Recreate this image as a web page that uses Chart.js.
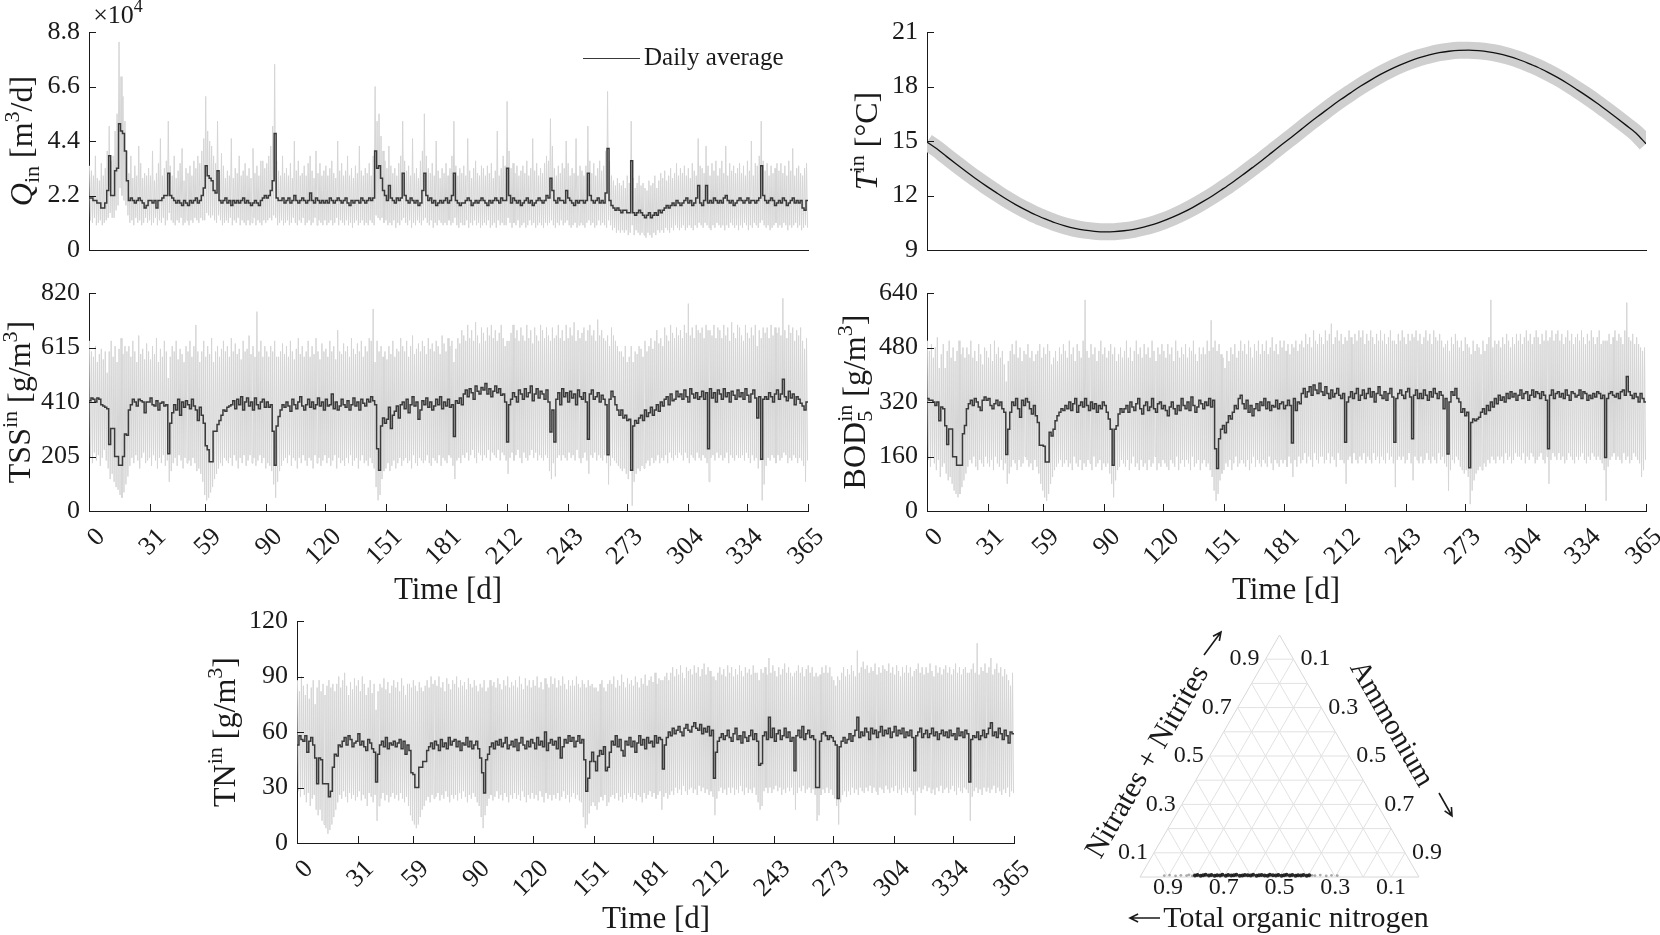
<!DOCTYPE html>
<html>
<head>
<meta charset="utf-8">
<script src="https://cdn.jsdelivr.net/npm/chart.js@4.4.1/dist/chart.umd.min.js"></script>
<style>
html, body { margin: 0; padding: 0; background: #fff; }
#wrap { position: relative; width: 1660px; height: 935px; overflow: hidden; background: #fff; }
canvas { position: absolute; }
</style>
</head>
<body>
<div id="wrap">
	<canvas id="cQ" width="830" height="270" style="left:0;top:0"></canvas>
	<canvas id="cT" width="830" height="270" style="left:830px;top:0"></canvas>
	<canvas id="cS" width="830" height="340" style="left:0;top:270px"></canvas>
	<canvas id="cB" width="830" height="340" style="left:830px;top:270px"></canvas>
	<canvas id="cN" width="850" height="335" style="left:190px;top:600px"></canvas>
	<canvas id="cR" width="620" height="345" style="left:1040px;top:590px"></canvas>
</div>
<script>
// ---- data (daily values, day 0..364) ----
const X_TICKS = [0, 31, 59, 90, 120, 151, 181, 212, 243, 273, 304, 334, 365];

// influent flow, 10^3 m3/d
const qAvg = [
	21,21,20,20,19,19,17,17,19,24, 38,22,22,32,33,51,48,47,40,28, 20,21,20,19,20,21,20,19,17,18,
	20,20,19,20,17,20,20,21,22,22, 31,22,21,20,19,20,19,18,20,19, 18,20,19,20,21,19,20,22,25,34,
	30,29,28,24,23,32,20,19,20,21, 19,20,18,20,19,20,19,20,21,19, 20,19,18,19,20,19,18,20,21,22,
	21,22,24,28,47,21,20,20,21,19, 20,21,19,20,22,20,19,20,21,20, 19,20,23,20,19,21,20,19,20,19,
	20,19,21,20,19,20,21,20,19,20, 21,19,18,20,19,20,20,19,21,20, 19,20,21,20,21,40,33,34,29,24,
	22,20,26,21,20,19,21,20,21,31, 22,20,19,21,20,19,20,18,19,24, 31,22,20,21,19,20,18,19,20,19,
	20,21,19,20,22,31,20,19,18,19, 19,20,21,20,18,19,20,19,20,21, 20,19,18,20,19,20,21,20,19,21,
	20,20,33,22,19,21,20,19,20,18, 19,20,21,19,20,18,19,20,21,20, 19,20,22,21,29,24,20,19,21,20,
	20,19,24,21,20,19,18,20,19,20, 20,19,20,31,22,20,19,20,21,19, 20,19,23,41,20,18,17,16,17,16,
	15,16,16,15,15,36,15,14,15,16, 15,14,13,14,15,13,14,15,14,16, 15,16,17,18,17,18,19,18,20,19,
	18,19,20,21,19,20,18,19,21,26, 19,18,20,26,19,20,19,21,20,19, 20,19,21,22,20,19,20,18,19,20,
	21,20,19,20,21,19,20,20,19,20, 21,34,22,20,19,20,21,20,18,19, 20,19,21,20,18,19,20,21,19,20,
	19,20,17,16,20
];
const qHi = [
	34,32,30,38,29,28,35,30,33,40, 50,36,38,48,55,84,70,62,52,40, 31,38,29,34,30,42,35,29,31,30,
	33,30,40,28,31,35,45,30,33,36, 52,34,30,38,29,32,35,41,28,33, 31,34,30,36,33,38,35,40,45,62,
	48,44,42,38,35,52,32,39,34,29, 32,30,45,29,33,31,38,30,32,35, 30,33,29,41,31,34,30,36,36,33,
	35,38,42,50,75,36,32,30,38,31, 33,30,35,29,44,32,36,30,31,34, 30,35,38,32,29,40,31,35,30,32,
	34,30,33,36,31,29,44,32,35,30, 32,38,30,33,29,34,31,42,32,30, 33,31,35,30,38,66,52,55,46,40,
	36,33,42,34,31,33,30,35,38,52, 36,32,34,30,45,31,33,29,36,40, 55,38,33,31,35,30,44,32,29,33,
	31,35,30,33,38,52,34,30,33,31, 34,30,45,32,29,33,36,31,30,34, 33,30,34,31,35,29,32,48,30,33,
	38,34,60,40,33,35,31,34,30,32, 34,31,36,30,33,45,32,35,30,33, 31,35,38,36,53,42,33,30,34,31,
	35,33,44,35,30,33,31,45,30,34, 32,30,34,50,36,31,35,30,33,36, 32,34,40,64,36,30,28,26,29,27,
	26,28,25,30,27,52,29,25,27,30, 26,27,25,24,28,26,27,30,25,28, 31,29,32,28,30,33,29,31,35,30,
	33,31,34,30,33,29,35,32,30,45, 34,33,31,42,34,30,35,32,36,30, 33,36,31,42,30,35,32,34,31,33,
	35,31,34,30,36,32,44,30,35,34, 38,52,36,32,35,30,34,31,33,35, 32,35,31,34,30,36,32,41,30,33,
	34,31,30,33,35
];
const qLo = [
	12,11,13,10,11,12,10,11,12,13, 15,13,13,16,18,25,22,20,18,14, 11,12,10,13,11,12,10,11,13,11,
	12,10,11,13,10,12,11,13,10,12, 15,12,11,10,12,11,13,10,11,12, 10,12,11,13,12,11,13,12,12,15,
	14,13,14,12,11,14,12,10,11,12, 11,13,10,12,11,13,10,12,11,10, 12,10,11,13,10,12,11,10,12,11,
	12,13,12,14,13,10,11,12,10,11, 12,10,11,13,11,10,12,11,13,10, 11,12,10,11,13,10,12,11,10,12,
	10,11,12,10,11,13,10,12,11,10, 12,10,11,9,11,12,10,11,12,10, 11,10,12,11,10,14,13,12,13,11,
	12,10,11,10,12,9,11,10,12,13, 11,10,12,9,11,10,12,11,10,12, 13,11,10,12,9,11,10,12,11,10,
	11,10,12,10,11,13,10,9,11,10, 10,12,9,11,10,12,10,11,9,10, 11,10,12,9,10,11,9,12,10,11,
	10,10,13,11,9,11,10,12,9,10, 11,9,10,12,10,11,9,10,11,10, 9,11,10,11,12,10,9,11,10,12,
	10,11,12,10,9,10,11,9,10,11, 10,9,11,12,10,11,9,10,12,10, 11,10,9,12,10,8,9,7,8,7,
	8,7,8,6,7,10,6,8,7,6, 7,6,5,7,6,5,7,6,8,7, 8,7,9,8,7,9,8,10,9,8,
	9,10,8,9,10,9,8,10,9,11, 10,9,11,10,9,8,10,9,11,10, 9,10,8,10,9,11,10,9,10,8,
	10,9,11,10,8,10,9,11,10,9, 11,12,10,9,10,8,9,10,11,9, 10,9,11,10,8,10,9,10,11,9,
	10,8,9,10,9
];

// temperature, read every 5 days (day 0, 5, ..., 365)
const tVals = [
	14.95,14.57,14.14,13.72,13.31,12.91,12.53,12.17,11.82,11.50,11.21,10.94,10.71,10.50,10.33,10.19,10.09,10.03,10.00,10.01,
	10.06,10.14,10.26,10.41,10.60,10.82,11.07,11.35,11.66,11.99,12.35,12.72,13.11,13.52,13.93,14.36,14.79,15.21,15.64,16.07,
	16.48,16.89,17.28,17.65,18.01,18.34,18.65,18.93,19.18,19.40,19.59,19.74,19.86,19.94,19.99,20.00,19.97,19.91,19.81,19.67,
	19.50,19.29,19.06,18.79,18.50,18.18,17.83,17.47,17.09,16.69,16.28,15.86,15.43,14.85
];

// total suspended solids, g/m3
const tssAvg = [
	415,425,420,410,425,420,400,395,390,385, 250,310,310,205,205,172,172,205,290,285, 380,400,420,410,395,420,415,410,370,410,
	410,425,400,395,415,380,405,410,395,400, 215,330,370,400,380,420,360,410,390,415, 400,385,420,395,380,340,390,360,330,245,
	230,185,185,300,300,325,340,360,380,375, 390,395,400,415,385,420,400,430,380,410, 425,395,410,380,425,400,385,410,420,390,
	410,390,400,300,172,320,355,380,400,390, 410,395,375,420,400,385,410,430,395,380, 400,420,390,410,385,400,425,395,410,380,
	420,395,400,440,385,410,380,395,420,400, 390,415,380,400,425,395,410,380,420,405, 395,420,410,430,415,400,234,153,320,350,
	330,345,390,310,360,375,395,350,400,410, 385,420,370,400,430,395,410,345,380,415, 400,425,390,410,380,395,420,400,430,385,
	410,395,420,390,400,280,415,405,425,400, 440,455,430,460,445,420,470,450,440,465, 455,480,440,460,430,450,470,445,460,435,
	440,410,260,400,420,445,430,410,455,440, 420,460,430,445,470,415,440,460,425,450, 440,420,455,410,297,380,260,420,445,400,
	460,430,445,410,450,425,440,400,455,430, 420,445,410,270,440,455,420,430,445,410, 435,420,400,212,420,450,430,400,380,360,
	380,350,360,340,345,153,320,340,330,350, 360,340,380,355,370,390,360,380,400,375, 410,395,420,430,400,440,415,420,450,430,
	440,420,455,430,410,460,440,425,445,420, 430,450,420,445,234,460,425,445,410,455, 440,420,460,430,445,410,450,435,420,455,
	430,445,420,460,435,410,440,455,425,350, 430,195,420,430,420,445,430,410,440,455, 420,440,496,430,415,450,425,440,400,430,
	420,405,395,380,410
];
const tssHi = [
	640,600,580,620,560,590,610,570,600,520, 600,640,580,620,560,610,650,590,620,600, 620,580,640,600,560,660,590,610,570,630,
	600,570,620,590,650,560,610,580,640,600, 500,580,620,600,640,570,610,590,560,620, 600,640,580,620,700,600,560,600,640,580,
	620,590,650,560,600,620,580,610,640,600, 620,580,650,600,630,590,610,570,640,600, 610,660,590,620,580,750,600,640,580,620,
	600,580,620,600,640,580,580,600,630,590, 620,580,640,600,570,610,650,590,620,580, 600,640,580,620,590,650,600,570,630,600,
	610,580,640,600,620,570,680,600,590,630, 600,620,580,650,610,590,630,600,640,580, 620,600,650,640,760,560,640,600,620,580,
	600,570,620,590,640,580,610,600,650,620, 600,640,580,620,660,590,610,630,600,640, 620,590,650,610,630,600,640,620,590,660,
	630,600,650,620,640,560,610,650,630,680, 660,640,700,650,680,640,710,660,630,690, 670,640,690,660,700,650,680,640,670,700,
	650,620,640,640,670,700,650,680,640,690, 660,640,700,650,680,630,690,660,640,700, 680,650,690,660,640,690,650,660,700,650,
	680,640,700,650,690,660,710,640,680,650, 670,690,640,680,700,660,680,640,720,660, 680,650,640,660,620,690,660,640,620,600,
	600,580,620,560,580,620,560,600,590,620, 610,580,640,600,620,650,610,640,680,630, 650,620,690,660,640,700,670,650,690,660,
	680,650,700,670,780,660,690,650,700,680, 670,690,650,700,680,680,660,700,650,690, 680,650,700,660,690,640,710,670,650,700,
	690,660,640,700,670,650,690,660,700,620, 680,650,690,670,690,650,700,660,690,670, 690,660,800,680,650,700,670,690,640,680,
	660,690,640,610,650
];
const tssLo = [
	200,180,220,190,210,170,200,230,190,160, 120,140,110,90,80,60,50,70,100,130, 170,200,180,210,190,160,200,220,180,190,
	200,170,210,190,160,200,180,210,170,190, 110,150,180,200,170,210,190,160,200,180, 190,170,200,180,150,160,140,110,60,40,
	50,70,90,120,140,160,180,170,200,190, 180,200,170,210,190,160,200,180,210,170, 190,210,180,200,170,190,210,180,200,160,
	180,170,150,100,50,110,150,170,190,200, 180,210,170,200,190,160,200,180,210,190, 170,200,190,160,210,180,200,170,190,210,
	180,200,170,190,210,160,200,180,190,170, 200,180,210,170,190,200,160,190,210,180, 190,170,200,180,160,90,40,60,120,150,
	160,180,150,170,190,160,180,200,170,190, 200,180,190,160,210,180,170,200,190,180, 190,210,180,170,200,190,180,210,170,200,
	190,180,210,200,170,120,190,200,180,210, 200,220,190,210,230,200,180,220,210,190, 210,200,230,190,220,210,200,230,190,220,
	210,190,140,200,220,190,210,230,200,180, 220,200,190,210,230,200,220,190,210,200, 190,210,200,150,120,180,130,200,210,190,
	210,200,190,220,200,210,190,230,200,180, 200,220,190,140,210,200,220,190,210,200, 190,210,180,100,170,200,190,180,170,160,
	150,160,140,120,150,20,110,140,160,150, 170,160,180,190,170,200,180,190,210,180, 200,190,210,180,220,200,190,210,200,220,
	210,190,220,200,180,210,200,190,220,200, 190,210,200,180,110,200,210,190,220,200, 210,190,200,220,180,210,200,190,210,200,
	200,210,190,220,200,180,210,190,200,160, 190,40,100,170,200,190,210,200,180,210, 190,200,220,210,180,200,190,210,200,180,
	200,190,170,110,190
];

// five-day biochemical oxygen demand, g/m3
const bodAvg = [
	330,325,325,320,310,320,265,305,300,250, 195,241,241,159,159,134,134,134,227,251, 300,315,325,310,330,320,305,295,325,335,
	325,330,310,300,315,325,310,320,300,290, 166,240,290,320,310,330,300,275,325,310, 330,320,300,285,310,280,260,193,193,190,
	144,144,231,220,240,265,280,290,300,295, 310,300,320,295,315,330,290,310,320,305, 330,310,295,320,300,315,290,310,300,320,
	310,290,270,240,134,240,250,285,300,290, 300,310,290,320,305,295,315,330,300,285, 310,320,295,305,330,300,290,315,320,300,
	310,295,280,305,320,300,285,310,295,330, 310,300,320,295,335,310,290,305,325,315, 300,320,310,330,305,325,183,125,212,240,
	251,230,260,280,270,290,310,300,330,340, 315,300,325,290,310,280,300,315,295,320, 310,330,300,320,295,310,305,325,300,315,
	320,300,310,325,310,200,330,295,320,315, 345,360,335,350,365,340,370,355,345,375, 350,340,365,345,330,355,335,345,360,340,
	330,345,202,320,335,350,330,345,360,325, 340,355,330,345,360,335,350,320,345,365, 340,330,350,325,345,360,335,202,330,345,
	355,340,330,350,360,335,212,340,355,330, 345,330,355,340,325,350,335,360,345,330, 350,340,300,330,167,320,350,340,360,330,
	320,290,300,280,290,127,260,270,265,270, 275,290,300,285,310,295,320,305,330,315, 340,325,335,320,345,330,350,335,345,325,
	340,355,330,345,350,325,340,355,335,350, 345,330,350,340,325,183,340,355,330,345, 350,335,345,330,355,340,325,350,345,335,
	340,355,330,350,345,325,340,330,345,335, 350,345,330,340,157,330,345,350,340,335, 345,330,350,355,340,395,350,340,330,345,
	335,320,345,330,320
];
const bodHi = [
	500,470,490,450,480,510,420,460,490,420, 470,500,450,480,440,470,500,460,480,450, 480,460,500,450,470,440,490,460,430,480,
	470,450,490,440,500,460,480,450,470,430, 380,440,470,490,460,500,450,480,440,470, 460,490,450,470,440,460,470,490,450,480,
	460,490,470,430,450,470,440,480,460,490, 470,450,500,460,480,440,490,470,450,500, 620,470,450,490,460,480,440,470,500,460,
	480,450,470,490,460,480,440,460,480,450, 470,500,450,480,440,470,500,460,480,450, 490,460,480,450,500,470,440,480,460,490,
	470,450,490,460,480,440,500,470,450,480, 460,490,450,480,470,500,460,440,480,460, 480,460,500,470,560,480,500,470,490,460,
	450,420,470,440,480,460,490,450,470,500, 470,490,460,500,480,450,490,470,500,460, 490,470,500,460,480,510,470,490,460,500,
	480,500,470,490,460,490,480,500,470,490, 500,480,520,490,510,480,530,500,490,520, 510,490,530,500,520,550,490,510,530,500,
	520,490,510,500,530,510,490,520,500,530, 510,530,490,520,500,530,510,490,520,500, 530,500,520,490,510,530,500,500,490,520,
	500,530,510,490,520,500,520,510,530,500, 520,490,510,530,500,520,490,530,510,500, 520,500,480,490,500,470,510,490,520,500,
	480,500,470,510,490,480,460,500,470,490, 480,460,500,470,490,510,620,480,500,490, 500,480,510,490,520,500,480,510,490,520,
	500,520,490,510,530,500,520,490,510,530, 510,490,520,500,530,500,510,530,500,520, 530,500,520,490,510,530,500,520,490,510,
	520,500,530,510,490,520,500,530,510,490, 510,530,490,500,500,500,520,490,510,530, 500,520,510,490,530,612,510,500,520,490,
	510,490,480,470,480
];
const bodLo = [
	150,130,160,140,120,150,100,130,140,110, 90,100,80,60,50,40,50,70,90,110, 130,150,140,160,130,120,150,140,130,160,
	140,130,150,120,160,140,130,150,120,140, 80,110,130,150,140,120,150,130,140,160, 150,130,140,120,150,130,110,80,60,40,
	30,50,80,100,120,130,140,150,130,140, 150,130,140,120,160,140,130,150,120,140, 130,150,140,120,160,130,140,150,120,140,
	130,140,110,80,40,90,120,130,150,140, 130,150,120,140,160,130,140,120,150,130, 140,120,150,130,140,160,120,140,130,150,
	140,130,120,150,140,130,160,120,140,150, 130,150,140,120,160,130,140,150,120,140, 150,130,140,120,100,60,30,50,90,110,
	120,140,130,150,120,140,160,130,140,150, 140,130,150,120,140,160,130,150,140,130, 150,140,130,160,140,120,150,140,130,150,
	140,150,130,160,140,100,150,130,160,140, 150,170,140,160,150,130,170,150,140,160, 160,140,150,170,140,160,150,130,170,150,
	150,140,80,150,160,140,170,150,140,160, 150,170,140,160,150,140,170,150,160,140, 160,150,140,170,150,160,140,70,150,160,
	150,160,140,150,170,140,90,160,150,140, 160,140,150,170,150,140,160,150,140,170, 150,160,140,130,60,120,150,140,160,150,
	130,120,110,120,100,20,60,90,110,120, 130,120,140,130,150,140,160,150,140,160, 150,160,140,170,150,160,140,150,170,160,
	160,150,170,140,160,150,170,160,140,150, 160,170,150,140,160,80,150,170,160,150, 170,150,160,140,150,170,160,150,140,160,
	150,160,170,150,140,160,150,170,160,150, 160,150,140,120,30,130,150,160,170,150, 160,150,140,170,150,160,140,150,170,160,
	150,140,100,120,150
];

// total nitrogen, g/m3
const tnAvg = [
	53,58,56,55,58,49,55,57,53,46, 32,46,45,32,32,32,25,28,41,48, 47,53,52,55,57,53,58,56,52,54,
	55,59,53,55,52,50,56,54,51,49, 33,48,53,55,52,57,51,54,53,55, 52,54,56,51,55,48,53,50,38,37,
	30,30,41,41,44,44,50,52,54,51, 55,53,50,56,52,54,51,57,53,55, 56,52,55,50,54,53,57,52,55,51,
	53,55,51,46,38,27,45,48,52,54, 51,55,53,56,52,54,57,51,53,55, 52,56,50,54,57,53,51,55,52,56,
	54,51,57,53,55,52,60,50,54,56, 53,55,51,57,46,52,56,54,58,55, 57,52,55,58,54,56,45,28,35,44,
	49,44,39,47,50,48,52,39,41,49, 55,53,58,52,56,50,47,55,53,57, 52,55,49,54,58,53,56,51,57,54,
	55,52,58,54,57,56,40,53,57,60, 58,62,59,61,63,60,58,62,64,61, 60,63,65,62,61,64,59,62,60,63,
	58,61,35,49,55,57,59,56,58,61, 57,55,59,62,56,58,54,60,57,55, 58,61,56,59,55,42,43,58,60,56,
	68,57,62,55,59,61,56,58,62,57, 60,55,57,39,58,61,57,63,56,59, 61,57,58,56,30,30,55,59,60,58,
	56,58,57,55,53,24,52,55,57,54, 56,59,55,58,61,68,57,60,58,62, 60,56,62,59,61,57,60,63,58,61,
	59,62,57,60,63,58,61,59,62,57, 60,58,61,57,39,58,60,62,57,59, 61,57,59,62,58,60,56,59,61,58,
	60,57,61,58,59,56,62,58,60,57, 61,59,33,56,58,57,60,56,58,61, 57,59,62,65,58,60,57,62,59,56,
	61,58,54,60,59
];
const tnHi = [
	88,82,90,85,80,86,78,84,88,75, 84,88,82,86,80,85,88,84,86,82, 86,90,84,88,92,85,80,87,83,89,
	85,88,82,90,86,80,84,88,81,86, 72,82,86,84,89,83,87,81,85,88, 84,87,82,89,85,80,86,86,84,88,
	85,82,87,84,82,85,88,84,90,86, 88,85,90,84,87,82,89,86,83,88, 86,90,84,88,85,87,83,89,86,84,
	88,85,82,86,84,88,82,84,88,85, 87,84,89,86,83,88,85,90,84,87, 85,88,84,90,86,83,89,85,88,84,
	88,85,90,84,87,83,89,86,84,90, 86,89,84,88,85,90,86,83,88,85, 88,85,90,86,84,88,86,84,88,85,
	86,84,84,82,86,88,84,82,86,88, 86,90,84,88,85,91,87,84,89,86, 88,85,90,87,84,89,86,91,85,88,
	90,87,92,86,89,88,88,90,92,88, 92,95,90,94,91,96,92,89,95,93, 94,91,96,92,95,90,94,97,91,95,
	93,90,90,88,92,95,91,94,90,96, 92,95,90,94,91,96,93,90,95,92, 94,91,96,92,92,88,94,92,95,91,
	100,92,96,93,90,95,91,94,97,92, 95,92,90,92,93,96,92,95,90,94, 96,92,95,90,92,90,91,95,92,96,
	92,95,90,88,85,90,88,92,95,90, 94,91,96,93,90,104,92,95,98,94, 96,92,95,93,97,91,95,92,96,94,
	93,97,92,95,91,96,93,90,95,92, 96,92,95,90,93,94,97,92,95,91, 95,92,97,93,90,96,92,95,91,94,
	96,92,95,91,94,97,92,95,91,94, 95,92,92,94,97,92,108,91,95,93, 97,92,95,100,91,94,97,92,95,90,
	94,91,88,85,92
];
const tnLo = [
	28,25,30,26,22,27,20,24,26,18, 15,18,12,10,8,5,7,10,14,18, 22,26,24,28,25,22,27,24,26,23,
	25,28,23,26,24,20,27,25,22,26, 12,20,24,27,23,26,22,25,27,24, 26,23,27,24,22,25,20,15,12,10,
	8,10,14,18,20,23,25,22,26,24, 25,27,23,26,24,28,25,22,26,24, 26,23,27,24,28,25,22,26,24,27,
	25,22,20,14,8,15,20,24,26,23, 25,28,24,26,23,27,25,22,26,24, 27,24,26,23,28,25,22,26,24,27,
	24,26,23,28,25,22,27,24,26,23, 26,24,27,23,25,28,24,26,22,25, 27,24,26,23,22,14,8,10,16,20,
	22,20,18,22,25,23,26,20,22,25, 26,24,27,23,25,22,26,24,27,25, 24,27,23,26,25,22,27,24,26,28,
	25,27,24,26,28,18,25,27,24,26, 28,26,30,27,29,26,31,28,26,29, 30,27,29,26,31,28,30,27,29,26,
	28,25,15,24,28,30,27,29,26,30, 27,30,26,29,27,31,28,26,30,27, 29,27,30,26,22,18,20,28,30,27,
	30,27,29,31,28,30,26,29,27,30, 28,30,26,18,27,30,28,31,27,29, 30,27,29,26,12,15,26,29,27,30,
	27,29,26,24,20,10,22,26,28,25, 28,26,30,27,29,26,30,28,27,30, 28,31,27,30,28,26,30,29,27,31,
	29,27,30,28,31,27,29,26,30,28, 27,30,28,26,15,28,30,27,29,31, 28,30,27,29,26,30,28,31,27,29,
	30,27,29,31,28,26,30,28,27,30, 29,27,12,25,28,30,27,29,26,30, 28,30,27,29,31,27,30,28,26,29,
	27,30,25,28,27
];

// nitrogen fractions (organic, nitrates) of the influent samples
const orgDense = [0.80,0.79,0.78,0.77,0.76,0.75,0.74,0.73,0.72,0.71,0.70,0.69,0.68,0.67,0.66,0.65,0.64,0.63,0.62,0.61,0.60,0.59,0.58,0.57,0.56,0.55,0.54,0.53,0.52,0.51,0.50,0.49,0.48,0.47,0.46,0.45,0.44,0.43,0.42,0.41,0.40,0.39];
const nitDense = [0.006,0.008,0.005,0.007,0.009,0.006,0.008,0.005,0.007,0.006,0.009,0.005,0.008,0.006,0.007,0.009,0.005,0.006,0.008,0.007,0.006,0.009,0.005,0.007,0.008,0.006,0.005,0.009,0.007,0.006,0.008,0.005,0.007,0.009,0.006,0.008,0.005,0.007,0.006,0.008,0.005,0.007];
const orgSparse = [0.91,0.89,0.87,0.85,0.83,0.82,0.81,0.38,0.37,0.35,0.33,0.31,0.29];
const nitSparse = [0.006,0.008,0.005,0.007,0.006,0.009,0.005,0.007,0.006,0.008,0.005,0.007,0.006];
const TERN_TICKS = [0.1, 0.2, 0.3, 0.4, 0.5, 0.6, 0.7, 0.8, 0.9];
const TERN_LABELS = [0.1, 0.3, 0.5, 0.7, 0.9];

// ---- drawing ----
const FONT = '"Liberation Serif", "DejaVu Serif", serif';
const INK = "#1a1a1a";
const GREY = "#d5d5d5";
const AVG = "#3a3a3a";

function drawRich(ctx, segs, cx, cy, rot) {
	ctx.save();
	ctx.translate(cx, cy);
	ctx.rotate(rot || 0);
	ctx.fillStyle = INK;
	ctx.textAlign = "left";
	ctx.textBaseline = "alphabetic";
	const fontOf = (s) => (s.it ? "italic " : "") + s.f + "px " + FONT;
	let total = 0;
	const widths = segs.map((s) => {
		ctx.font = fontOf(s);
		const w = ctx.measureText(s.t).width;
		if (!s.stay) total += w;
		return w;
	});
	let x = -total / 2;
	const base = segs[0].f * 0.34;
	segs.forEach((s, i) => {
		ctx.font = fontOf(s);
		ctx.fillText(s.t, x, base + (s.dy || 0));
		if (!s.stay) x += widths[i];
	});
	ctx.restore();
}

function drawArrow(ctx, x1, y1, x2, y2) {
	const a = Math.atan2(y2 - y1, x2 - x1);
	ctx.save();
	ctx.strokeStyle = INK;
	ctx.lineWidth = 1.6;
	ctx.beginPath();
	ctx.moveTo(x1, y1);
	ctx.lineTo(x2, y2);
	ctx.moveTo(x2 - 9 * Math.cos(a - 0.45), y2 - 9 * Math.sin(a - 0.45));
	ctx.lineTo(x2, y2);
	ctx.lineTo(x2 - 9 * Math.cos(a + 0.45), y2 - 9 * Math.sin(a + 0.45));
	ctx.stroke();
	ctx.restore();
}

const SUP = -13;
const SUB = 7;
const DECOR = {
	cQ: {
		yTitleX: 21,
		yTitle: [{ t: "Q", f: 32, it: 1 }, { t: "in", f: 22, dy: SUB }, { t: " [m", f: 32 }, { t: "3", f: 22, dy: SUP }, { t: "/d]", f: 32 }],
		extra: (ctx) => {
			drawRich(ctx, [{ t: "×10", f: 26 }, { t: "4", f: 18, dy: -11 }], 118, 14, 0);
			ctx.save();
			ctx.strokeStyle = AVG;
			ctx.lineWidth = 1.2;
			ctx.beginPath();
			ctx.moveTo(583, 58.5);
			ctx.lineTo(640, 58.5);
			ctx.stroke();
			ctx.fillStyle = INK;
			ctx.font = "25px " + FONT;
			ctx.textBaseline = "middle";
			ctx.fillText("Daily average", 644, 58);
			ctx.restore();
		},
	},
	cT: {
		yTitleX: 36,
		yTitle: [{ t: "T", f: 32, it: 1 }, { t: "in", f: 22, dy: SUP }, { t: " [°C]", f: 32 }],
	},
	cS: {
		yTitleX: 19,
		xTicks: true,
		xTitle: [448, 318],
		yTitle: [{ t: "TSS", f: 32 }, { t: "in", f: 22, dy: SUP }, { t: " [g/m", f: 32 }, { t: "3", f: 22, dy: SUP }, { t: "]", f: 32 }],
	},
	cB: {
		yTitleX: 24,
		xTicks: true,
		xTitle: [456, 318],
		yTitle: [{ t: "BOD", f: 32 }, { t: "5", f: 22, dy: SUB, stay: 1 }, { t: "in", f: 22, dy: SUP }, { t: " [g/m", f: 32 }, { t: "3", f: 22, dy: SUP }, { t: "]", f: 32 }],
	},
	cN: {
		yTitleX: 34,
		xTicks: true,
		xTitle: [466, 317],
		yTitle: [{ t: "TN", f: 32 }, { t: "in", f: 22, dy: SUP }, { t: " [g/m", f: 32 }, { t: "3", f: 22, dy: SUP }, { t: "]", f: 32 }],
	},
};

const decorPlugin = {
	id: "decor",
	afterDraw(chart) {
		const o = DECOR[chart.canvas.id];
		const { ctx, chartArea: a } = chart;
		ctx.save();
		ctx.strokeStyle = INK;
		ctx.lineWidth = 1;
		const ys = chart.scales.y;
		ys.ticks.forEach((t) => {
			const py = Math.round(ys.getPixelForValue(t.value)) + 0.5;
			ctx.beginPath();
			ctx.moveTo(a.left, py);
			ctx.lineTo(a.left + 7, py);
			ctx.stroke();
		});
		if (o.xTicks) {
			const xs = chart.scales.x;
			xs.ticks.forEach((t) => {
				const px = Math.round(xs.getPixelForValue(t.value)) + 0.5;
				ctx.beginPath();
				ctx.moveTo(px, a.bottom);
				ctx.lineTo(px, a.bottom - 7);
				ctx.stroke();
			});
		}
		ctx.restore();
		drawRich(ctx, o.yTitle, o.yTitleX, (a.top + a.bottom) / 2, -Math.PI / 2);
		if (o.xTitle) drawRich(ctx, [{ t: "Time [d]", f: 31 }], o.xTitle[0], o.xTitle[1], 0);
		if (o.extra) o.extra(ctx);
	},
};

const stepPts = (v) => v.map((y, d) => ({ x: d, y })).concat([{ x: v.length, y: v[v.length - 1] }]);
const zigPts = (lo, hi) => {
	const p = [];
	lo.forEach((l, d) => {
		p.push({ x: d + 0.25, y: hi[d] });
		p.push({ x: d + 0.75, y: l });
	});
	return p;
};

function panel(id, cfg) {
	return new Chart(document.getElementById(id), {
		type: "line",
		data: { datasets: cfg.datasets },
		options: {
			responsive: false,
			animation: false,
			events: [],
			layout: { padding: { left: 0, top: cfg.top, right: cfg.right, bottom: 0 } },
			plugins: { legend: { display: false }, tooltip: { enabled: false } },
			elements: { point: { radius: 0 }, line: { tension: 0 } },
			scales: {
				x: {
					type: "linear",
					min: 0,
					max: 365,
					afterBuildTicks: (s) => {
						s.ticks = cfg.xTicks ? X_TICKS.map((v) => ({ value: v })) : [];
					},
					afterFit: (s) => {
						s.height = cfg.xh;
						s.paddingLeft = 0;
						s.paddingRight = 0;
					},
					grid: { display: true, drawOnChartArea: false, drawTicks: false },
					border: { display: true, color: INK, width: 1 },
					ticks: {
						display: !!cfg.xTicks,
						autoSkip: false,
						minRotation: 45,
						maxRotation: 45,
						padding: 11,
						labelOffset: 12,
						color: INK,
						font: { family: FONT, size: 26 },
					},
				},
				y: {
					type: "linear",
					min: cfg.yTicks[0],
					max: cfg.yTicks[cfg.yTicks.length - 1],
					afterBuildTicks: (s) => {
						s.ticks = cfg.yTicks.map((v) => ({ value: v }));
					},
					afterFit: (s) => {
						s.width = cfg.yw;
						s.paddingTop = 0;
						s.paddingBottom = 0;
					},
					grid: { display: true, drawOnChartArea: false, drawTicks: false },
					border: { display: true, color: INK, width: 1 },
					ticks: {
						padding: 9,
						color: INK,
						font: { family: FONT, size: 26 },
						callback: cfg.yFmt || ((v) => String(v)),
					},
				},
			},
		},
		plugins: [decorPlugin],
	});
}

function seriesSets(avg, lo, hi) {
	return [
		{ data: stepPts(avg), stepped: "before", borderColor: AVG, borderWidth: 1.5, pointRadius: 0, order: 0 },
		{ data: zigPts(lo, hi), borderColor: GREY, borderWidth: 1, pointRadius: 0, order: 1 },
	];
}

panel("cQ", {
	top: 32, right: 22, yw: 89, xh: 20,
	yTicks: [0, 22, 44, 66, 88],
	yFmt: (v) => (v === 0 ? "0" : (v / 10).toFixed(1)),
	datasets: seriesSets(qAvg, qLo, qHi),
});

panel("cT", {
	top: 32, right: 14, yw: 97, xh: 20,
	yTicks: [9, 12, 15, 18, 21],
	datasets: [
		{ data: tVals.map((y, i) => ({ x: i * 5, y })), borderColor: "#111", borderWidth: 1.3, cubicInterpolationMode: "monotone", pointRadius: 0, order: 0 },
		{ data: tVals.map((y, i) => ({ x: i * 5, y })), borderColor: "#cfcfcf", borderWidth: 17, cubicInterpolationMode: "monotone", pointRadius: 0, order: 1 },
	],
});

panel("cS", {
	top: 23, right: 22, yw: 89, xh: 99, xTicks: true,
	yTicks: [0, 205, 410, 615, 820],
	datasets: seriesSets(tssAvg, tssLo, tssHi),
});

panel("cB", {
	top: 23, right: 14, yw: 97, xh: 99, xTicks: true,
	yTicks: [0, 160, 320, 480, 640],
	datasets: seriesSets(bodAvg, bodLo, bodHi),
});

panel("cN", {
	top: 21, right: 26, yw: 107, xh: 92, xTicks: true,
	yTicks: [0, 30, 60, 90, 120],
	datasets: seriesSets(tnAvg, tnLo, tnHi),
});

// ---- ternary diagram ----
const H = Math.sqrt(3) / 2;
const tp = (org, amm, nit) => ({ x: amm + nit / 2, y: nit * H });
const gridLine = (pts, color) => ({ data: pts, showLine: true, borderColor: color, borderWidth: 1, pointRadius: 0, clip: false, order: 3 });
const ternSets = [];
TERN_TICKS.forEach((k) => {
	ternSets.push(gridLine([tp(1 - k, 0, k), tp(0, 1 - k, k)], "#e2e2e2"));
	ternSets.push(gridLine([tp(k, 1 - k, 0), tp(k, 0, 1 - k)], "#e2e2e2"));
	ternSets.push(gridLine([tp(1 - k, k, 0), tp(0, k, 1 - k)], "#e2e2e2"));
});
ternSets.push(gridLine([tp(1, 0, 0), tp(0, 1, 0), tp(0, 0, 1), tp(1, 0, 0)], "#d8d8d8"));
ternSets.push({
	data: orgSparse.map((o, i) => tp(o, 1 - o - nitSparse[i], nitSparse[i])),
	pointRadius: 1.4, pointBackgroundColor: "rgba(70,70,70,0.45)", pointBorderWidth: 0, clip: false, order: 1,
});
ternSets.push({
	data: orgDense.map((o, i) => tp(o, 1 - o - nitDense[i], nitDense[i])),
	pointRadius: 2, pointBackgroundColor: "rgba(20,20,20,0.9)", pointBorderWidth: 0, clip: false, order: 0,
});

const ternPlugin = {
	id: "tern",
	afterDraw(chart) {
		const { ctx } = chart;
		const xs = chart.scales.x;
		const ys = chart.scales.y;
		const px = (org, amm, nit) => {
			const p = tp(org, amm, nit);
			return [xs.getPixelForValue(p.x), ys.getPixelForValue(p.y)];
		};
		ctx.save();
		ctx.fillStyle = INK;
		ctx.font = "24px " + FONT;
		ctx.textBaseline = "middle";
		TERN_LABELS.forEach((k) => {
			let [x, y] = px(1 - k, 0, k);
			ctx.textAlign = "right";
			ctx.fillText(k.toFixed(1), x - 6, y);
			[x, y] = px(0, k, 1 - k);
			ctx.textAlign = "left";
			ctx.fillText(k.toFixed(1), x + 7, y);
			[x, y] = px(k, 1 - k, 0);
			ctx.textAlign = "center";
			ctx.fillText(k.toFixed(1), x, y + 11);
		});
		ctx.restore();
		drawRich(ctx, [{ t: "Nitrates + Nitrites", f: 30 }], 106, 171, -Math.PI / 3);
		drawArrow(ctx, 164, 65, 181, 42);
		drawRich(ctx, [{ t: "Ammonium", f: 29 }], 353, 133, Math.PI / 3);
		drawArrow(ctx, 399, 203, 412, 226);
		drawRich(ctx, [{ t: "Total organic nitrogen", f: 30 }], 256, 327, 0);
		drawArrow(ctx, 120, 328, 90, 328);
	},
};

new Chart(document.getElementById("cR"), {
	type: "scatter",
	data: { datasets: ternSets },
	options: {
		responsive: false,
		animation: false,
		events: [],
		layout: { padding: { left: 100, top: 45, right: 241, bottom: 58 } },
		plugins: { legend: { display: false }, tooltip: { enabled: false } },
		scales: {
			x: { type: "linear", min: 0, max: 1, display: false },
			y: { type: "linear", min: 0, max: H, display: false },
		},
	},
	plugins: [ternPlugin],
});
</script>
</body>
</html>
